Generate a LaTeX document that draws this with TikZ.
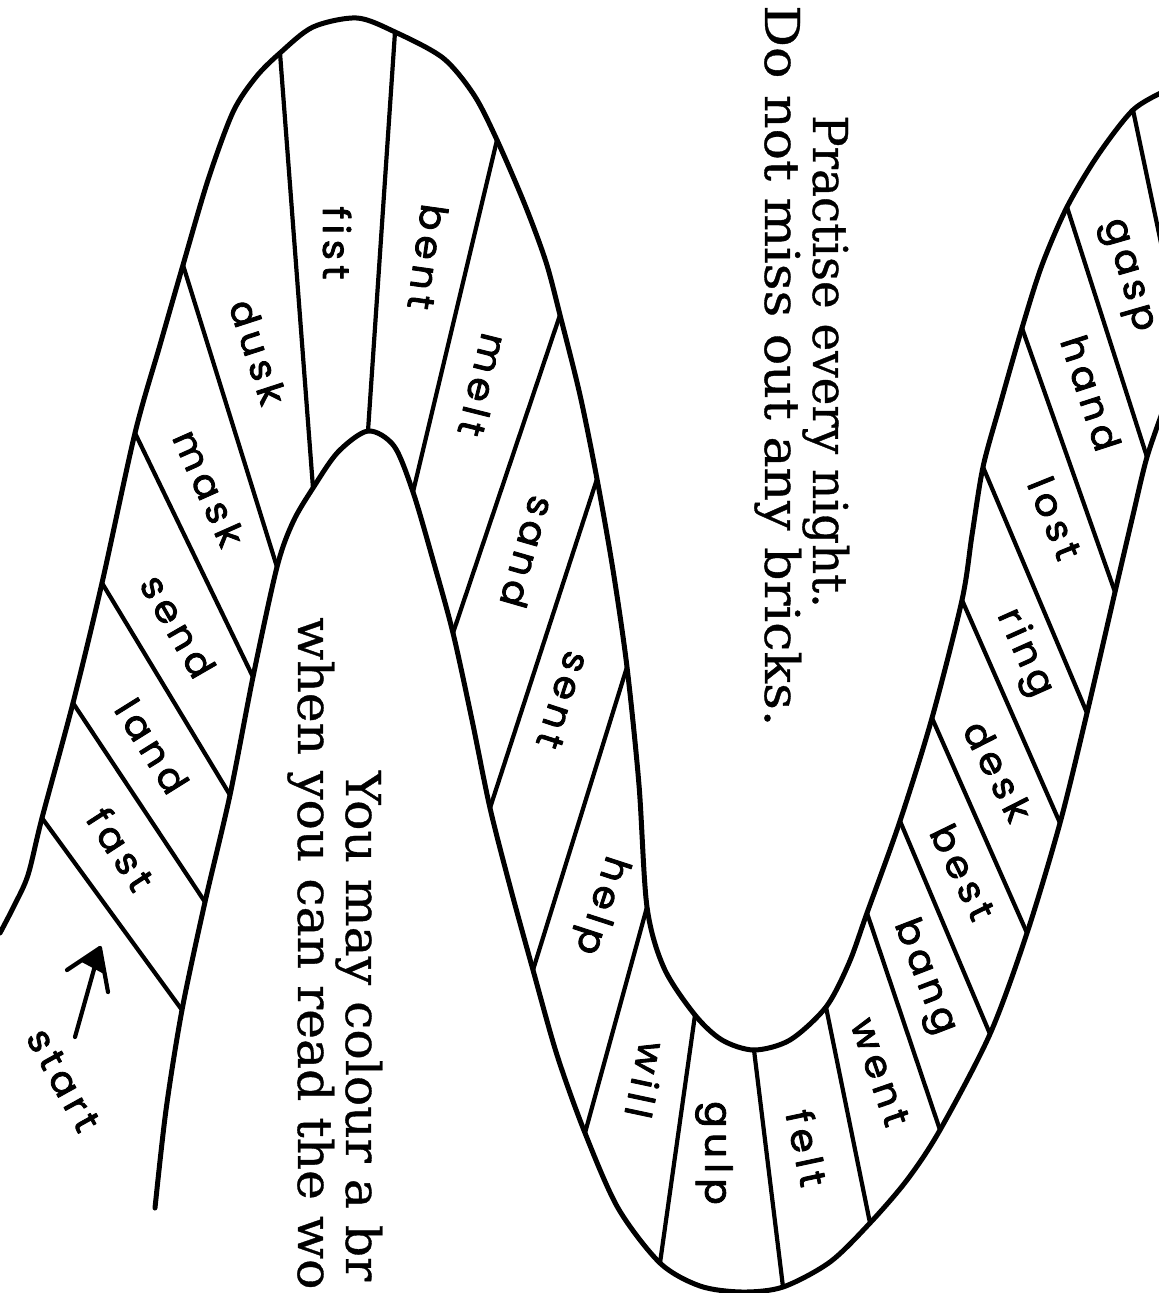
\documentclass[tikz,border=0pt]{standalone}
\usepackage{fontspec}
\usetikzlibrary{calc}
\setmainfont{DejaVu Serif}[FakeBold=0.7]
\newfontfamily\hand{Poppins}[LetterSpace=14,FakeBold=2.2]
\newcommand{\hwword}[1]{\scalebox{1.05}[1]{#1}}
\begin{document}
\begin{tikzpicture}[x=1pt,y=-1pt,line cap=round,line join=round,
  edge/.style={line width=5pt},
  divider/.style={line width=4.2pt},
  word/.style={font=\hand\fontsize{37}{37}\selectfont,inner sep=0pt},
  prose/.style={font=\fontsize{48}{48}\selectfont,rotate=-90,anchor=base west,inner sep=0pt}]
\fill[white] (0,0) rectangle (1159,1293);
\useasboundingbox (0,0) rectangle (1159,1293);
\clip (0,0) rectangle (1159,1293);
% ---------- boundary A (outer of first arch, inner of U)
\coordinate (a0) at (0,933);
\coordinate (a0b) at (14,906);
\coordinate (a0c) at (28,875);
\coordinate (a1) at (42,818);
\coordinate (a2) at (73,703);
\coordinate (a3) at (102,583);
\coordinate (a4) at (135,433);
\coordinate (a4b) at (160,345);
\coordinate (a5) at (183,265);
\coordinate (a5b) at (208,180);
\coordinate (a5c) at (233,112);
\coordinate (a5d) at (256,77);
\coordinate (a6) at (280,53);
\coordinate (a6b) at (313,27);
\coordinate (a6c) at (357,18);
\coordinate (a7) at (395,32);
\coordinate (a7b) at (443,58);
\coordinate (a7c) at (474,95);
\coordinate (a8) at (497,140);
\coordinate (a8b) at (525,205);
\coordinate (a8c) at (546,262);
\coordinate (a9) at (560,315);
\coordinate (a9b) at (580,395);
\coordinate (a10) at (597,479);
\coordinate (a10b) at (613,570);
\coordinate (a11) at (627,667);
\coordinate (a11b) at (639,785);
\coordinate (a12) at (647,907);
\coordinate (a12b) at (664,968);
\coordinate (a13) at (695,1015);
\coordinate (a13b) at (722,1040);
\coordinate (a14) at (754,1050);
\coordinate (a14b) at (790,1040);
\coordinate (a15) at (826,1007);
\coordinate (a15b) at (849,963);
\coordinate (a16) at (867,913);
\coordinate (a17) at (900,821);
\coordinate (a18) at (932,718);
\coordinate (a19) at (962,600);
\coordinate (a19b) at (972,535);
\coordinate (a20) at (983,467);
\coordinate (a20b) at (1000,405);
\coordinate (a21) at (1022,328);
\coordinate (a21b) at (1042,265);
\coordinate (a22) at (1067,207);
\coordinate (a22b) at (1098,155);
\coordinate (a23) at (1133,110);
\coordinate (a24) at (1165,91);
% ---------- boundary B (inner of first arch, outer of U)
\coordinate (b0) at (155,1208);
\coordinate (b0b) at (166,1110);
\coordinate (b1) at (182,1010);
\coordinate (b2) at (205,902);
\coordinate (b3) at (230,795);
\coordinate (b4) at (253,677);
\coordinate (b5) at (277,567);
\coordinate (b5b) at (293,522);
\coordinate (b6) at (313,488);
\coordinate (b6b) at (338,452);
\coordinate (b7) at (368,431);
\coordinate (b7b) at (394,446);
\coordinate (b8) at (413,492);
\coordinate (b8b) at (433,560);
\coordinate (b9) at (453,633);
\coordinate (b9b) at (472,720);
\coordinate (b10) at (490,808);
\coordinate (b10b) at (511,890);
\coordinate (b11) at (533,970);
\coordinate (b11b) at (557,1055);
\coordinate (b12) at (585,1133);
\coordinate (b12b) at (618,1208);
\coordinate (b13) at (660,1263);
\coordinate (b13b) at (700,1286);
\coordinate (b13c) at (742,1292);
\coordinate (b14) at (783,1287);
\coordinate (b14b) at (830,1262);
\coordinate (b15) at (870,1223);
\coordinate (b15b) at (907,1180);
\coordinate (b16) at (940,1130);
\coordinate (b17) at (990,1034);
\coordinate (b18) at (1027,933);
\coordinate (b19) at (1060,823);
\coordinate (b20) at (1087,713);
\coordinate (b21) at (1115,592);
\coordinate (b21b) at (1133,515);
\coordinate (b22) at (1147,457);
\coordinate (b23) at (1165,405);
\coordinate (e23) at (1165,262);
% ---------- boundaries
\draw[edge] plot[smooth] coordinates {(a0) (a0b) (a0c) (a1) (a2) (a3) (a4) (a4b) (a5) (a5b) (a5c) (a5d) (a6) (a6b) (a6c) (a7) (a7b) (a7c) (a8) (a8b) (a8c) (a9) (a9b) (a10) (a10b) (a11) (a11b) (a12) (a12b) (a13) (a13b) (a14) (a14b) (a15) (a15b) (a16) (a17) (a18) (a19) (a19b) (a20) (a20b) (a21) (a21b) (a22) (a22b) (a23) (a24)};
\draw[edge] plot[smooth] coordinates {(b0) (b0b) (b1) (b2) (b3) (b4) (b5) (b5b) (b6) (b6b) (b7) (b7b) (b8) (b8b) (b9) (b9b) (b10) (b10b) (b11) (b11b) (b12) (b12b) (b13) (b13b) (b13c) (b14) (b14b) (b15) (b15b) (b16) (b17) (b18) (b19) (b20) (b21) (b21b) (b22) (b23)};
% ---------- dividers
\foreach \i in {1,...,22} {\draw[divider] (a\i) -- (b\i);}
\draw[divider] (a23) -- (e23);
% ---------- words
\node[word,rotate=-57] (wfast) at (121,849) {\hwword{fast}};
\node[word,rotate=-58] (wland) at (152,746) {\hwword{land}};
\node[word,rotate=-60] (wsend) at (178,626) {\hwword{send}};
\node[word,rotate=-66] (wmask) at (209,488) {\hwword{mask}};
\node[word,rotate=-72] (wdusk) at (258,352) {\hwword{dusk}};
\node[word,rotate=-90] (wfist) at (337,243) {\hwword{fist}};
\node[word,rotate=-98] (wbent) at (428,257) {\hwword{bent}};
\node[word,rotate=-104] (wmelt) at (483,385) {\hwword{melt}};
\node[word,rotate=-106] (wsand) at (528,552) {\hwword{sand}};
\node[word,rotate=-108] (wsent) at (563,700) {\hwword{sent}};
\node[word,rotate=-108] (whelp) at (600,905) {\hwword{help}};
\node[word,rotate=-102] (wwill) at (646,1080) {\hwword{will}};
\node[word,rotate=-90] (wgulp) at (714,1153) {\hwword{gulp}};
\node[word,rotate=-78] (wfelt) at (807,1148) {\hwword{felt}};
\node[word,rotate=-71] (wwent) at (880,1072) {\hwword{went}};
\node[word,rotate=-69] (wbang) at (924,977) {\hwword{bang}};
\node[word,rotate=-64] (wbest) at (963,872) {\hwword{best}};
\node[word,rotate=-63] (wdesk) at (998,771) {\hwword{desk}};
\node[word,rotate=-66] (wring) at (1024,653) {\hwword{ring}};
\node[word,rotate=-68] (wlost) at (1055,518) {\hwword{lost}};
\node[word,rotate=-72] (whand) at (1091,393) {\hwword{hand}};
\node[word,rotate=-74] (wgasp) at (1125,276) {\hwword{gasp}};
% ---------- start label and arrow
\node[word,rotate=-61] (wstart) at (63,1080) {\hwword{start}};
\coordinate (arrtail) at (75,1037);
\coordinate (arrtip) at (100,948);
\coordinate (barbL) at (67,970);
\coordinate (barbR) at (108,992);
\draw[divider] (arrtail) -- (arrtip);
\draw[divider] (barbL) -- (arrtip) -- (barbR);
\fill (arrtip) -- ($(arrtip)!0.6!(barbL)$) -- ($(arrtip)!0.6!(barbR)$) -- cycle;
% ---------- printed instructions
\node[prose] (t1) at (813,115) {\scalebox{0.975}[1]{Practise every night.}};
\node[prose] (t2) at (765,5) {\scalebox{1.087}[1]{Do not miss out any bricks.}};
\node[prose] (t3) at (346,771) {\scalebox{1.05}[1]{You may colour a br}};
\node[prose] (t4) at (298,617) {\scalebox{1.05}[1]{when you can read the wo}};
\end{tikzpicture}
\end{document}
